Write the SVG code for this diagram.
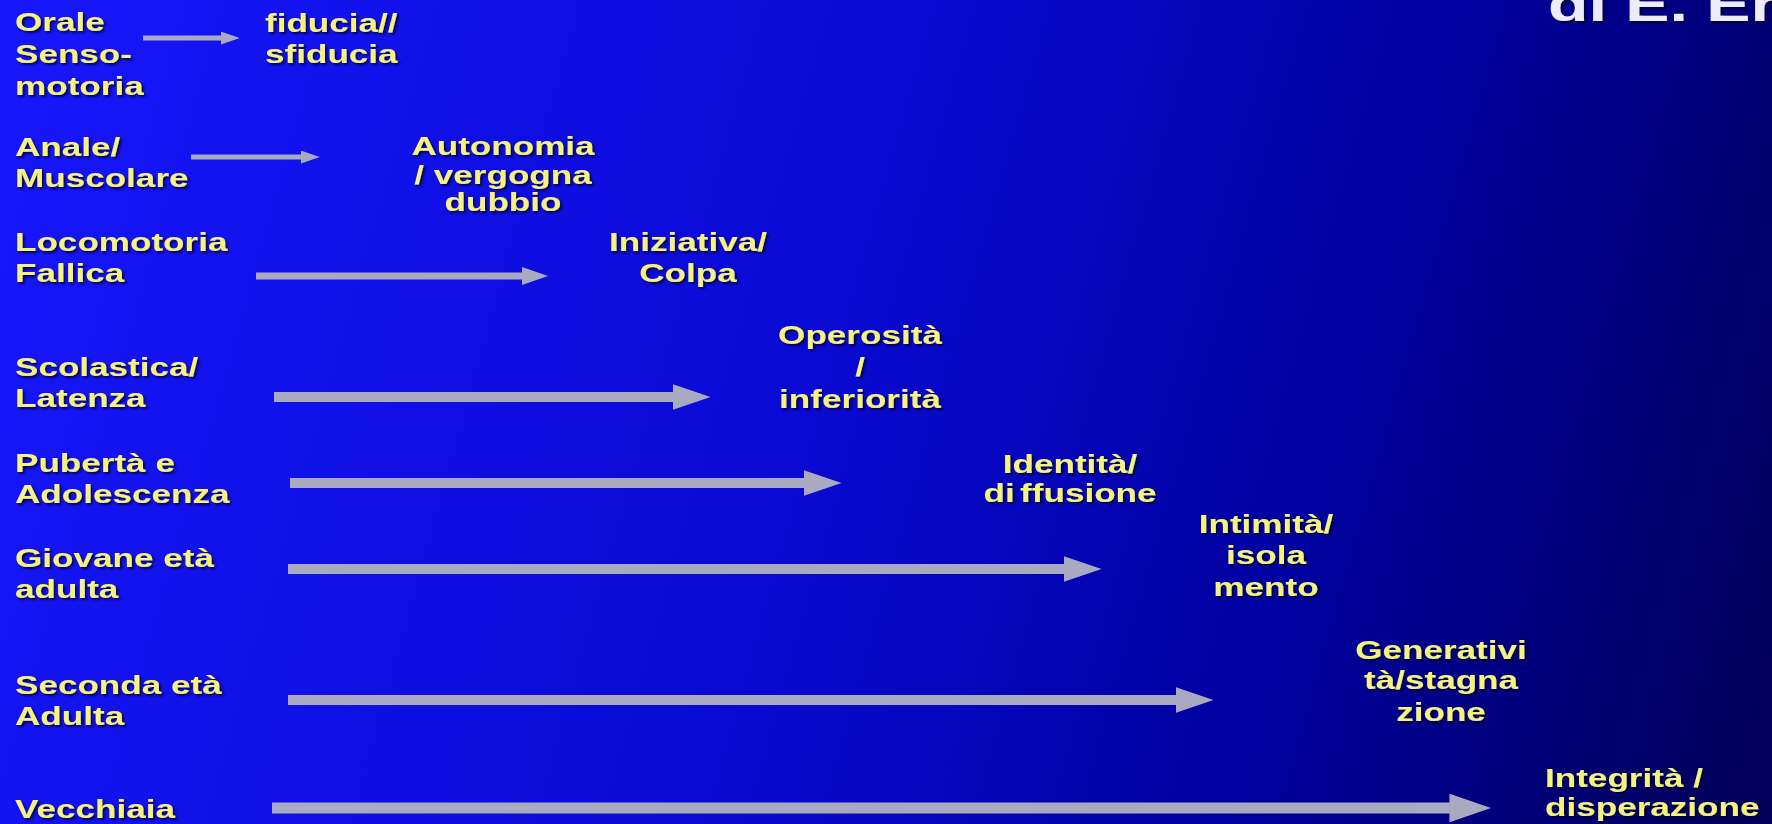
<svg xmlns="http://www.w3.org/2000/svg" width="1772" height="824" viewBox="0 0 1772 824">
<style>
.t{font-family:"Liberation Sans",Arial,sans-serif;font-weight:bold;font-size:26px;fill:#f6f282;filter:url(#sh)}
.ttl{font-family:"Liberation Sans",Arial,sans-serif;font-weight:bold;font-size:48px;fill:#ececf8;filter:url(#sh)}
.c{text-anchor:middle}
.a{stroke:#a9a9c2;fill:none;marker-end:url(#ah)}
</style>
<defs>
<linearGradient id="bg" gradientUnits="userSpaceOnUse" x1="0" y1="200" x2="1772" y2="700">
<stop offset="0" stop-color="#1616fa"/>
<stop offset="0.45" stop-color="#0a0ad4"/>
<stop offset="0.75" stop-color="#00009c"/>
<stop offset="1" stop-color="#00005a"/>
</linearGradient>
<filter id="sh" x="-10%" y="-20%" width="130%" height="150%">
<feDropShadow dx="1.5" dy="2" stdDeviation="1" flood-color="#000028" flood-opacity="0.8"/>
</filter>
<marker id="ah" markerUnits="strokeWidth" markerWidth="3.8" markerHeight="2.6" viewBox="0 0 3.8 2.6" refX="0.05" refY="1.3" orient="auto">
<path d="M0,0 L3.8,1.3 L0,2.6 z" fill="#a9a9c2"/>
</marker>
</defs>
<rect width="1772" height="824" fill="url(#bg)"/>
<g id="title"><text class="ttl" transform="translate(1548,21) scale(1.38,1)">di E. Er</text></g>
<g id="connectors">
<line class="a" x1="143" y1="38" x2="221" y2="38" stroke-width="5"/>
<line class="a" x1="191" y1="157" x2="301" y2="157" stroke-width="5"/>
<line class="a" x1="256" y1="276" x2="522" y2="276" stroke-width="7"/>
<line class="a" x1="274" y1="397" x2="673" y2="397" stroke-width="10"/>
<line class="a" x1="290" y1="483" x2="804" y2="483" stroke-width="10"/>
<line class="a" x1="288" y1="569" x2="1064" y2="569" stroke-width="10"/>
<line class="a" x1="288" y1="700" x2="1176" y2="700" stroke-width="10"/>
<line class="a" x1="272" y1="808" x2="1450" y2="808" stroke-width="11"/>
</g>
<g id="stage1"><text class="t" transform="translate(15,0) scale(1.35,1)"><tspan x="0" y="31">Orale</tspan><tspan x="0" y="63">Senso-</tspan><tspan x="0" y="95">motoria</tspan></text></g>
<g id="crisis1"><text class="t" transform="translate(265,0) scale(1.35,1)"><tspan x="0" y="32">fiducia//</tspan><tspan x="0" y="63">sfiducia</tspan></text></g>
<g id="stage2"><text class="t" transform="translate(15,0) scale(1.35,1)"><tspan x="0" y="156">Anale/</tspan><tspan x="0" y="187">Muscolare</tspan></text></g>
<g id="crisis2"><text class="t c" transform="translate(503,0) scale(1.35,1)"><tspan x="0" y="155">Autonomia</tspan><tspan x="0" y="184">/ vergogna</tspan><tspan x="0" y="211">dubbio</tspan></text></g>
<g id="stage3"><text class="t" transform="translate(15,0) scale(1.35,1)"><tspan x="0" y="251">Locomotoria</tspan><tspan x="0" y="282">Fallica</tspan></text></g>
<g id="crisis3"><text class="t c" transform="translate(688,0) scale(1.35,1)"><tspan x="0" y="251">Iniziativa/</tspan><tspan x="0" y="282">Colpa</tspan></text></g>
<g id="stage4"><text class="t" transform="translate(15,0) scale(1.35,1)"><tspan x="0" y="376">Scolastica/</tspan><tspan x="0" y="407">Latenza</tspan></text></g>
<g id="crisis4"><text class="t c" transform="translate(860,0) scale(1.35,1)"><tspan x="0" y="344">Operosità</tspan><tspan x="0" y="376">/</tspan><tspan x="0" y="408">inferiorità</tspan></text></g>
<g id="stage5"><text class="t" transform="translate(15,0) scale(1.35,1)"><tspan x="0" y="472">Pubertà e</tspan><tspan x="0" y="503">Adolescenza</tspan></text></g>
<g id="crisis5"><text class="t c" transform="translate(1070,0) scale(1.35,1)"><tspan x="0" y="473">Identità/</tspan><tspan x="0" y="502">di<tspan dx="4">ffusione</tspan></tspan></text></g>
<g id="stage6"><text class="t" transform="translate(15,0) scale(1.35,1)"><tspan x="0" y="567">Giovane età</tspan><tspan x="0" y="598">adulta</tspan></text></g>
<g id="crisis6"><text class="t c" transform="translate(1266,0) scale(1.35,1)"><tspan x="0" y="533">Intimità/</tspan><tspan x="0" y="564">isola</tspan><tspan x="0" y="596">mento</tspan></text></g>
<g id="stage7"><text class="t" transform="translate(15,0) scale(1.35,1)"><tspan x="0" y="694">Seconda età</tspan><tspan x="0" y="725">Adulta</tspan></text></g>
<g id="crisis7"><text class="t c" transform="translate(1441,0) scale(1.35,1)"><tspan x="0" y="659">Generativi</tspan><tspan x="0" y="689">tà/stagna</tspan><tspan x="0" y="721">zione</tspan></text></g>
<g id="stage8"><text class="t" transform="translate(15,0) scale(1.35,1)"><tspan x="0" y="818">Vecchiaia</tspan></text></g>
<g id="crisis8"><text class="t" transform="translate(1545,0) scale(1.35,1)"><tspan x="0" y="787">Integrità /</tspan><tspan x="0" y="816">disperazione</tspan></text></g>
</svg>
